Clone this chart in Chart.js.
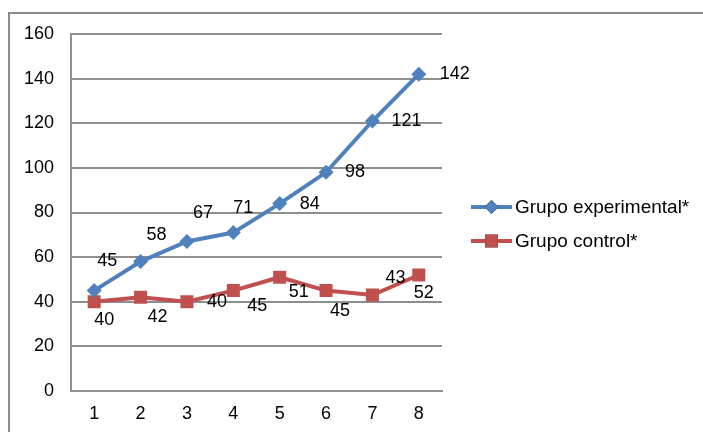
<!DOCTYPE html>
<html>
<head>
<meta charset="utf-8">
<script src="https://cdn.jsdelivr.net/npm/chart.js@4/dist/chart.umd.min.js"></script>
<style>
  html, body { margin: 0; padding: 0; background: #fff; }
  #wrap { width: 703px; height: 432px; position: relative; }
</style>
</head>
<body>
<div id="wrap"><canvas id="chart" width="703" height="432"></canvas></div>
<script>
const categories = ["1", "2", "3", "4", "5", "6", "7", "8"];
const experimental = [45, 58, 67, 71, 84, 98, 121, 142];
const control = [40, 42, 40, 45, 51, 45, 43, 52];
const yTicks = [0, 20, 40, 60, 80, 100, 120, 140, 160];

const BLUE = "#4F81BD";
const RED = "#C0504D";
const GRID = "#8e8e8e";
const FONT = "'Liberation Sans', Arial, sans-serif";

// where each value label sits relative to its marker
const labelOffsets = [
  [[13, -30], [16, -27], [16, -28], [10, -25], [30, 0], [29, 0], [34, 0], [36, 0]],
  [[10, 18], [17, 20], [30, 0], [24, 15], [19, 15], [14, 20], [23, -17], [5, 18]]
];

const valueLabels = {
  id: "valueLabels",
  afterDatasetsDraw(chart) {
    const ctx = chart.ctx;
    ctx.save();
    ctx.font = "18px " + FONT;
    ctx.fillStyle = "#000";
    ctx.textAlign = "center";
    ctx.textBaseline = "middle";
    chart.data.datasets.forEach((ds, i) => {
      const meta = chart.getDatasetMeta(i);
      meta.data.forEach((pt, j) => {
        const [dx, dy] = labelOffsets[i][j];
        ctx.fillText(String(ds.data[j]), pt.x + dx, pt.y + dy);
      });
    });
    ctx.restore();
  }
};

const frameAndLegend = {
  id: "frameAndLegend",
  beforeDraw(chart) {
    const ctx = chart.ctx;
    ctx.save();
    ctx.fillStyle = "#fff";
    ctx.fillRect(0, 0, chart.width, chart.height);
    ctx.strokeStyle = "#8c8c8c";
    ctx.lineWidth = 2;
    ctx.beginPath();
    ctx.moveTo(9, chart.height + 2);
    ctx.lineTo(9, 13);
    ctx.lineTo(chart.width + 2, 13);
    ctx.stroke();
    ctx.restore();
  },
  afterDraw(chart) {
    const ctx = chart.ctx;
    const items = [
      { text: "Grupo experimental*", color: BLUE, style: "rectRot", r: 7, y: 207 },
      { text: "Grupo control*", color: RED, style: "rect", r: 9, y: 241 }
    ];
    ctx.save();
    items.forEach(it => {
      ctx.strokeStyle = it.color;
      ctx.lineWidth = 4;
      ctx.beginPath();
      ctx.moveTo(471, it.y);
      ctx.lineTo(512, it.y);
      ctx.stroke();
      Chart.helpers.drawPoint(ctx, {
        pointStyle: it.style, radius: it.r, borderWidth: 0, rotation: 0
      }, 491.5, it.y);
      ctx.fillStyle = it.color;
      ctx.fill();
      ctx.fillStyle = "#000";
      ctx.font = "19px " + FONT;
      ctx.textAlign = "left";
      ctx.textBaseline = "middle";
      ctx.fillText(it.text, 515, it.y + 1);
    });
    ctx.restore();
  }
};

new Chart(document.getElementById("chart"), {
  type: "line",
  data: {
    labels: categories,
    datasets: [
      {
        label: "Grupo experimental*",
        data: experimental,
        borderColor: BLUE,
        backgroundColor: BLUE,
        borderWidth: 4,
        pointStyle: "rectRot",
        pointRadius: 7.5,
        pointBorderWidth: 0,
        pointBackgroundColor: BLUE,
        tension: 0
      },
      {
        label: "Grupo control*",
        data: control,
        borderColor: RED,
        backgroundColor: RED,
        borderWidth: 4,
        pointStyle: "rect",
        pointRadius: 9.2,
        pointBorderWidth: 0,
        pointBackgroundColor: RED,
        tension: 0
      }
    ]
  },
  options: {
    responsive: false,
    animation: false,
    layout: { padding: { left: 8, top: 34, right: 261, bottom: 0 } },
    plugins: {
      legend: { display: false },
      tooltip: { enabled: false }
    },
    scales: {
      x: {
        offset: true,
        grid: { display: false, drawTicks: false },
        border: { display: true, color: GRID, width: 2 },
        ticks: { color: "#000", font: { family: FONT, size: 18 }, padding: 12 },
        afterFit: s => { s.height = 41; }
      },
      y: {
        min: 0,
        max: 160,
        afterBuildTicks: s => { s.ticks = yTicks.map(v => ({ value: v })); },
        grid: { color: GRID, lineWidth: 2, drawTicks: false },
        border: { display: true, color: GRID, width: 2 },
        ticks: { color: "#000", font: { family: FONT, size: 18 }, padding: 17 },
        afterFit: s => { s.width = 63; }
      }
    }
  },
  plugins: [frameAndLegend, valueLabels]
});
</script>
</body>
</html>
